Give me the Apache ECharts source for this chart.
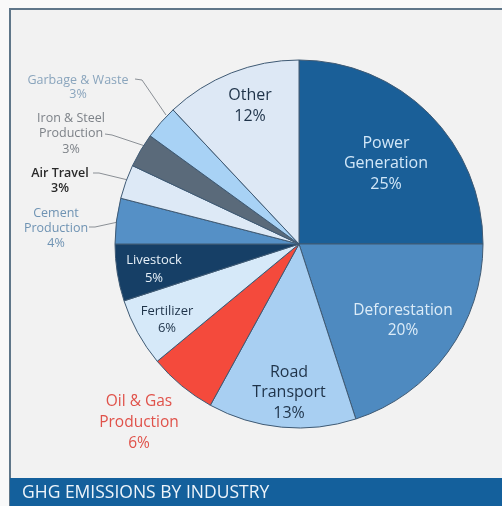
<!DOCTYPE html>
<html>
<head>
<meta charset="utf-8">
<script src="https://cdn.jsdelivr.net/npm/echarts@6/dist/echarts.min.js"></script>
<style>
  html, body { margin: 0; padding: 0; background: #f9f9f9; }
  #chart { width: 502px; height: 506px; }
</style>
</head>
<body>
<div id="chart"></div>
<script>
// ---- data ----
var categories = [
  'Power\nGeneration', 'Deforestation', 'Road\nTransport', 'Oil & Gas\nProduction',
  'Fertilizer', 'Livestock', 'Cement\nProduction', 'Air Travel',
  'Iron & Steel\nProduction', 'Garbage & Waste', 'Other'
];
var values = [25, 20, 13, 6, 6, 5, 4, 3, 3, 3, 12];
var chartTitle = 'GHG EMISSIONS BY INDUSTRY';

// ---- styles (kept separate from data) ----
var fontName = 'Open Sans';
var sliceColors = ['#1a5f98', '#4e8ac0', '#a8cff2', '#f44a3c', '#d6e9f9', '#163f66',
                   '#5590c6', '#dde9f6', '#5a6a7a', '#a8d2f5', '#dde8f5'];
var labelColors = ['#d2e7f8', '#dcecf8', '#1f3349', '#e0524a', '#1f3349', '#e6f0f8',
                   '#6f93b3', '#2a2a2a', '#7d8288', '#8aa5bd', '#1f3349'];
var labelSizes  = [16, 15.5, 16, 15.5, 13, 13, 12.5, 12.5, 12.5, 12.5, 16];
var lineHeights = [20.5, 20, 20.5, 21, 17, 18, 15, 15, 15.5, 14, 21];
var outsideIdx  = [6, 7, 8, 9];
// label block centres and leader-line points (layout only)
var labelPos = [
  [386, 163.5], [403, 320.5], [289, 392.5], [139, 422.5], [167, 320], [154, 269],
  [56, 228], [60, 180.5], [71, 133.5], [78, 87], [250, 105.5]
];
var leaderLines = {
  6: [[89, 227], [95, 227], [118, 222]],
  7: [[93, 173], [99, 173], [128, 180]],
  8: [[105, 134], [112, 135], [145, 146]],
  9: [[135, 79], [142, 80], [166, 115]]
};

var dataItems = categories.map(function (name, i) {
  var outside = outsideIdx.indexOf(i) >= 0;
  return {
    name: name,
    value: values[i],
    itemStyle: { color: sliceColors[i] },
    label: {
      position: outside ? 'outside' : 'inside',
      color: labelColors[i],
      fontSize: labelSizes[i],
      lineHeight: lineHeights[i],
      fontWeight: i === 7 ? 600 : 'normal'
    },
    labelLine: { show: outside, lineStyle: { color: '#8b9096', width: 1 } }
  };
});

var chart = echarts.init(document.getElementById('chart'), null, { renderer: 'canvas' });
chart.setOption({
  animation: false,
  backgroundColor: '#f9f9f9',
  graphic: [
    { type: 'rect', z: -10, shape: { x: 10, y: 9, width: 500, height: 500 },
      style: { fill: '#f2f2f2', stroke: '#5f7689', lineWidth: 2 } },
    { type: 'rect', z: -5, shape: { x: 10, y: 478, width: 492, height: 28 },
      style: { fill: '#14609c' } },
    { type: 'text', z: 10, left: 22, top: 484,
      style: { text: chartTitle, fill: '#eef4fa', fontFamily: fontName, fontSize: 17.5 } }
  ],
  series: [{
    type: 'pie',
    center: [299, 244],
    radius: 184,
    startAngle: 90,
    clockwise: true,
    avoidLabelOverlap: false,
    itemStyle: { borderColor: '#3f5a74', borderWidth: 1 },
    label: {
      show: true,
      fontFamily: fontName,
      align: 'center',
      formatter: function (p) { return p.name + '\n' + p.value + '%'; }
    },
    emphasis: { disabled: true },
    labelLayout: function (params) {
      var i = params.dataIndex;
      var out = {
        x: labelPos[i][0],
        y: labelPos[i][1],
        align: 'center',
        verticalAlign: 'middle'
      };
      if (leaderLines[i]) out.labelLinePoints = leaderLines[i];
      return out;
    },
    data: dataItems
  }]
});
</script>
</body>
</html>
